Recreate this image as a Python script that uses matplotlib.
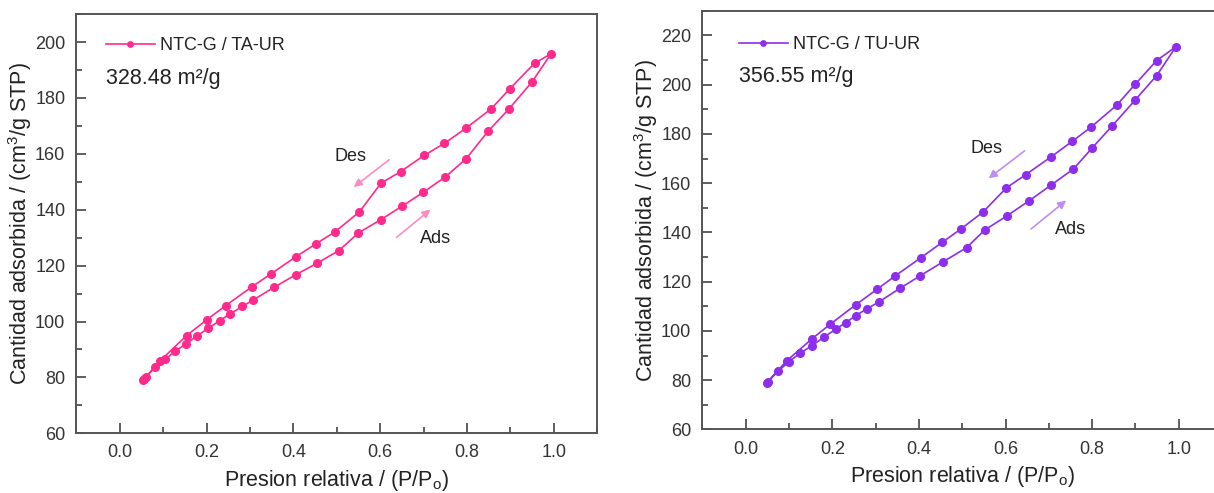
import matplotlib
matplotlib.use('Agg')
import matplotlib.pyplot as plt
from matplotlib.ticker import MultipleLocator, FixedLocator

plt.rcParams['font.family'] = ['Liberation Sans', 'DejaVu Sans']

# NTC-G / TA-UR isotherm
ta_ads_x = [0.053, 0.061, 0.082, 0.105, 0.128, 0.153, 0.178, 0.204, 0.230, 0.255, 0.282, 0.306, 0.355,
            0.405, 0.455, 0.505, 0.550, 0.601, 0.650, 0.699, 0.750, 0.798, 0.849, 0.896, 0.950, 0.994]
ta_ads_y = [79.1, 80.3, 83.8, 86.5, 89.5, 92.0, 94.9, 97.6, 100.3, 102.8, 105.4, 107.6, 112.2,
            116.7, 120.9, 125.4, 131.7, 136.4, 141.2, 146.2, 151.7, 158.2, 168.1, 175.9, 185.7, 195.8]
ta_des_x = [0.956, 0.899, 0.856, 0.798, 0.748, 0.701, 0.647, 0.602, 0.552, 0.496, 0.452, 0.405,
            0.348, 0.305, 0.244, 0.200, 0.154, 0.093, 0.056]
ta_des_y = [192.4, 183.3, 176.1, 169.2, 163.7, 159.4, 153.6, 149.5, 139.2, 132.1, 127.8, 123.1,
            117.0, 112.5, 105.7, 100.6, 95.0, 86.0, 79.4]

# NTC-G / TU-UR isotherm
tu_ads_x = [0.049, 0.075, 0.100, 0.125, 0.153, 0.180, 0.208, 0.231, 0.254, 0.279, 0.307, 0.356, 0.403,
            0.456, 0.510, 0.552, 0.603, 0.654, 0.705, 0.757, 0.800, 0.847, 0.899, 0.949, 0.994]
tu_ads_y = [78.9, 83.7, 87.5, 90.9, 94.0, 97.4, 100.7, 103.4, 106.2, 108.9, 111.7, 117.3, 122.4,
            128.1, 133.8, 141.0, 146.7, 152.8, 159.2, 165.8, 174.3, 183.4, 193.7, 203.7, 215.5]
tu_des_x = [0.949, 0.899, 0.857, 0.797, 0.754, 0.706, 0.647, 0.602, 0.548, 0.497, 0.454, 0.405,
            0.344, 0.304, 0.254, 0.195, 0.153, 0.095, 0.051]
tu_des_y = [209.8, 200.1, 191.7, 182.7, 177.0, 170.8, 163.5, 158.1, 148.3, 141.4, 136.0, 129.8,
            122.2, 117.0, 110.6, 102.7, 96.8, 87.9, 79.4]

labels = ['NTC-G / TA-UR', 'NTC-G / TU-UR']
areas = ['328.48 m²/g', '356.55 m²/g']
ta_yticks = [60, 80, 100, 120, 140, 160, 180, 200]
tu_yticks = [60, 80, 100, 120, 140, 160, 180, 200, 220]
colors = ['#FF2A8C', '#8C2EEB']
arrow_colors = ['#FF8CC0', '#C08CF5']

fig = plt.figure(figsize=(12.14, 4.93), dpi=100)
ax1 = fig.add_axes([0.063, 0.121, 0.4288, 0.8505])
ax2 = fig.add_axes([0.5786, 0.129, 0.428, 0.849])


def draw_panel(ax, ads_x, ads_y, des_x, des_y, i, ylim, yticks, des_arrow, ads_arrow, des_txt, ads_txt,
               leg_pos, area_pos):
    xs = ads_x + des_x
    ys = ads_y + des_y
    ax.plot(xs, ys, '-o', color=colors[i], lw=1.2, ms=5.5, mec=colors[i], mfc=colors[i], label=labels[i])

    ax.xaxis.set_major_locator(MultipleLocator(0.2))
    ax.xaxis.set_minor_locator(MultipleLocator(0.1))
    ax.yaxis.set_major_locator(FixedLocator(yticks))
    ax.yaxis.set_minor_locator(MultipleLocator(10))
    ax.set_xlim(-0.1, 1.1)
    ax.set_ylim(*ylim)
    ax.tick_params(which='both', direction='in', top=False, right=False, width=1.2,
                   color='#444444', labelsize=13, labelcolor='#333333', pad=8)
    ax.tick_params(which='major', length=7)
    ax.tick_params(which='minor', length=4)
    for sp in ax.spines.values():
        sp.set_color('#555555')
        sp.set_linewidth(1.4)

    ax.set_xlabel('Presion relativa / (P/P$_\\mathregular{o}$)', fontsize=15.5, color='#222222', labelpad=5)
    ax.set_ylabel('Cantidad adsorbida / (cm$^\\mathregular{3}$/g STP)', fontsize=15.5, color='#222222',
                  labelpad=1)

    # direction arrows
    ax.annotate('', xy=des_arrow[1], xytext=des_arrow[0],
                arrowprops=dict(arrowstyle='-|>', color=arrow_colors[i], lw=1.2, mutation_scale=12))
    ax.annotate('', xy=ads_arrow[1], xytext=ads_arrow[0],
                arrowprops=dict(arrowstyle='-|>', color=arrow_colors[i], lw=1.2, mutation_scale=12))
    ax.text(des_txt[0], des_txt[1], 'Des', fontsize=13, color='#222222', ha='center', va='center')
    ax.text(ads_txt[0], ads_txt[1], 'Ads', fontsize=13, color='#222222', ha='center', va='center')

    leg = ax.legend(loc='upper left', bbox_to_anchor=leg_pos, frameon=False, fontsize=13,
                    borderpad=0, borderaxespad=0, handlelength=2.7, handletextpad=0.3, markerscale=0.7)
    for t in leg.get_texts():
        t.set_color('#222222')
    ax.text(area_pos[0], area_pos[1], areas[i], transform=ax.transAxes, fontsize=15.5,
            color='#222222', va='baseline')


draw_panel(ax1, ta_ads_x, ta_ads_y, ta_des_x, ta_des_y, 0, (60, 210), ta_yticks,
           ((0.626, 158.5), (0.534, 147.5)), ((0.633, 129.5), (0.721, 140.7)),
           (0.531, 158.9), (0.728, 129.7), (0.0567, 0.945), (0.0567, 0.833))
draw_panel(ax2, tu_ads_x, tu_ads_y, tu_des_x, tu_des_y, 1, (60, 230), tu_yticks,
           ((0.649, 173.8), (0.556, 161.3)), ((0.654, 140.7), (0.745, 153.7)),
           (0.555, 173.9), (0.751, 141.0), (0.070, 0.940), (0.070, 0.830))

fig.savefig('out.png', dpi=100)
